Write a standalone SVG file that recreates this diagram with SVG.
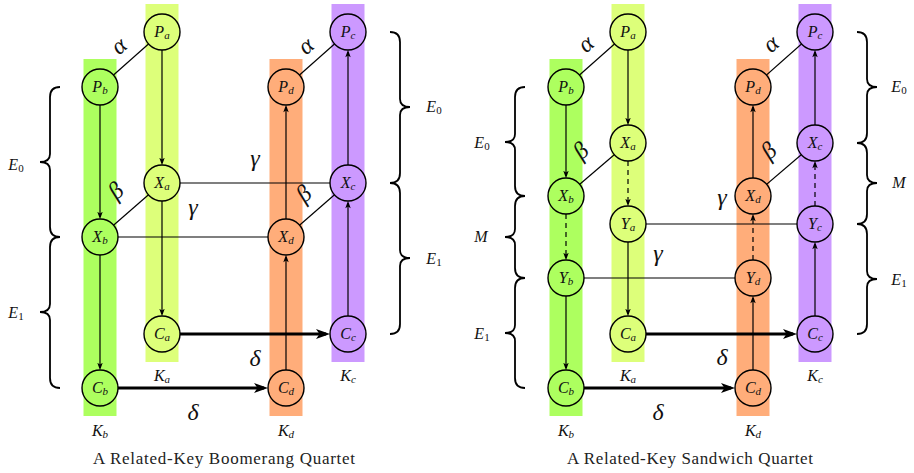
<svg xmlns="http://www.w3.org/2000/svg" width="914" height="473" viewBox="0 0 914 473" font-family="'Liberation Serif', 'Times New Roman', Tinos, 'DejaVu Serif', 'Noto Serif', serif">
<style>
.kb{fill:#adff5f}.ka{fill:#ddff7a}.kd{fill:#ffad7a}.kc{fill:#cc99ff}
.nd circle{stroke:#000;stroke-width:1.4}
text{font-family:'Liberation Serif','Times New Roman',Tinos,'DejaVu Serif','Noto Serif',serif}
.lbl{font-style:italic;font-size:16px;fill:#111;text-anchor:middle}
.sub{font-size:11px}
.up{font-style:normal}
.gr{font-style:italic;font-size:24px;fill:#111;text-anchor:middle}
.ln{stroke:#000;stroke-width:1.2;fill:none}
.ar{stroke:#000;stroke-width:1.2;fill:none;marker-end:url(#ah)}
.da{stroke:#000;stroke-width:1.2;fill:none;stroke-dasharray:5,4;marker-end:url(#ah)}
.th{stroke:#000;stroke-width:3;fill:none;marker-end:url(#tah)}
.br{stroke:#000;stroke-width:1.8;fill:none}
.cap{font-size:17px;fill:#222;text-anchor:middle}
</style>
<defs>
<marker id="ah" markerUnits="userSpaceOnUse" viewBox="0 0 8 6" markerWidth="8" markerHeight="6" refX="5.5" refY="3" orient="auto">
<path d="M0.3,0.3 L7.7,3 L0.3,5.7 L2,3 z" fill="#000"/>
</marker>
<marker id="tah" markerUnits="userSpaceOnUse" viewBox="0 0 14 10" markerWidth="14" markerHeight="10" refX="10" refY="5" orient="auto">
<path d="M0,0 L14,5 L0,10 L3.5,5 z" fill="#000"/>
</marker>
</defs>

<!-- key columns -->
<g id="bars">
<rect class="kb" x="83.5" y="59" width="33" height="357"/>
<rect class="ka" x="145.5" y="4" width="33" height="358"/>
<rect class="kd" x="269.5" y="59" width="33" height="357"/>
<rect class="kc" x="331.5" y="4" width="33" height="358"/>
<rect class="kb" x="549.5" y="59" width="33" height="357"/>
<rect class="ka" x="611.5" y="4" width="33" height="358"/>
<rect class="kd" x="736.5" y="59" width="33" height="357"/>
<rect class="kc" x="798.5" y="4" width="33" height="358"/>
</g>

<!-- connectors -->
<g id="connectors">
<!-- left: boomerang -->
<line class="ln" x1="100" y1="87" x2="162" y2="32"/>
<line class="ln" x1="286" y1="87" x2="348" y2="32"/>
<line class="ln" x1="100" y1="237" x2="162" y2="183"/>
<line class="ln" x1="286" y1="237" x2="348" y2="183"/>
<line class="ln" x1="162" y1="183" x2="348" y2="183"/>
<line class="ln" x1="100" y1="237" x2="286" y2="237"/>
<line class="ar" x1="162" y1="50" x2="162" y2="163"/>
<line class="ar" x1="100" y1="105" x2="100" y2="217"/>
<line class="ar" x1="162" y1="201" x2="162" y2="314"/>
<line class="ar" x1="100" y1="255" x2="100" y2="368"/>
<line class="ar" x1="286" y1="370" x2="286" y2="257"/>
<line class="ar" x1="286" y1="219" x2="286" y2="107"/>
<line class="ar" x1="348" y1="316" x2="348" y2="203"/>
<line class="ar" x1="348" y1="165" x2="348" y2="52"/>
<line class="th" x1="180" y1="334" x2="326" y2="334"/>
<line class="th" x1="118" y1="388" x2="264" y2="388"/>
<!-- right: sandwich -->
<line class="ln" x1="566" y1="87" x2="628" y2="32"/>
<line class="ln" x1="753" y1="87" x2="815" y2="32"/>
<line class="ln" x1="566" y1="196" x2="628" y2="143"/>
<line class="ln" x1="753" y1="196" x2="815" y2="143"/>
<line class="ln" x1="628" y1="224" x2="815" y2="224"/>
<line class="ln" x1="566" y1="278" x2="753" y2="278"/>
<line class="ar" x1="628" y1="50" x2="628" y2="123"/>
<line class="ar" x1="566" y1="105" x2="566" y2="176"/>
<line class="da" x1="628" y1="161" x2="628" y2="204"/>
<line class="da" x1="566" y1="214" x2="566" y2="258"/>
<line class="ar" x1="628" y1="242" x2="628" y2="314"/>
<line class="ar" x1="566" y1="296" x2="566" y2="368"/>
<line class="ar" x1="753" y1="370" x2="753" y2="298"/>
<line class="da" x1="753" y1="260" x2="753" y2="216"/>
<line class="ar" x1="753" y1="178" x2="753" y2="107"/>
<line class="ar" x1="815" y1="316" x2="815" y2="244"/>
<line class="da" x1="815" y1="206" x2="815" y2="163"/>
<line class="ar" x1="815" y1="125" x2="815" y2="52"/>
<line class="th" x1="646" y1="334" x2="793" y2="334"/>
<line class="th" x1="584" y1="388" x2="731" y2="388"/>
</g>

<!-- nodes left -->
<g id="L-Pa" class="nd"><circle cx="162" cy="32" r="18" class="ka"/><text class="lbl" x="162" y="37">P<tspan class="sub" dy="2">a</tspan></text></g>
<g id="L-Pb" class="nd"><circle cx="100" cy="87" r="18" class="kb"/><text class="lbl" x="100" y="92">P<tspan class="sub" dy="2">b</tspan></text></g>
<g id="L-Pc" class="nd"><circle cx="348" cy="32" r="18" class="kc"/><text class="lbl" x="348" y="37">P<tspan class="sub" dy="2">c</tspan></text></g>
<g id="L-Pd" class="nd"><circle cx="286" cy="87" r="18" class="kd"/><text class="lbl" x="286" y="92">P<tspan class="sub" dy="2">d</tspan></text></g>
<g id="L-Xa" class="nd"><circle cx="162" cy="183" r="18" class="ka"/><text class="lbl" x="162" y="188">X<tspan class="sub" dy="2">a</tspan></text></g>
<g id="L-Xb" class="nd"><circle cx="100" cy="237" r="18" class="kb"/><text class="lbl" x="100" y="242">X<tspan class="sub" dy="2">b</tspan></text></g>
<g id="L-Xc" class="nd"><circle cx="348" cy="183" r="18" class="kc"/><text class="lbl" x="348" y="188">X<tspan class="sub" dy="2">c</tspan></text></g>
<g id="L-Xd" class="nd"><circle cx="286" cy="237" r="18" class="kd"/><text class="lbl" x="286" y="242">X<tspan class="sub" dy="2">d</tspan></text></g>
<g id="L-Ca" class="nd"><circle cx="162" cy="334" r="18" class="ka"/><text class="lbl" x="162" y="339">C<tspan class="sub" dy="2">a</tspan></text></g>
<g id="L-Cb" class="nd"><circle cx="100" cy="388" r="18" class="kb"/><text class="lbl" x="100" y="393">C<tspan class="sub" dy="2">b</tspan></text></g>
<g id="L-Cc" class="nd"><circle cx="348" cy="334" r="18" class="kc"/><text class="lbl" x="348" y="339">C<tspan class="sub" dy="2">c</tspan></text></g>
<g id="L-Cd" class="nd"><circle cx="286" cy="388" r="18" class="kd"/><text class="lbl" x="286" y="393">C<tspan class="sub" dy="2">d</tspan></text></g>

<!-- nodes right -->
<g id="R-Pa" class="nd"><circle cx="628" cy="32" r="18" class="ka"/><text class="lbl" x="628" y="37">P<tspan class="sub" dy="2">a</tspan></text></g>
<g id="R-Pb" class="nd"><circle cx="566" cy="87" r="18" class="kb"/><text class="lbl" x="566" y="92">P<tspan class="sub" dy="2">b</tspan></text></g>
<g id="R-Pc" class="nd"><circle cx="815" cy="32" r="18" class="kc"/><text class="lbl" x="815" y="37">P<tspan class="sub" dy="2">c</tspan></text></g>
<g id="R-Pd" class="nd"><circle cx="753" cy="87" r="18" class="kd"/><text class="lbl" x="753" y="92">P<tspan class="sub" dy="2">d</tspan></text></g>
<g id="R-Xa" class="nd"><circle cx="628" cy="143" r="18" class="ka"/><text class="lbl" x="628" y="148">X<tspan class="sub" dy="2">a</tspan></text></g>
<g id="R-Xb" class="nd"><circle cx="566" cy="196" r="18" class="kb"/><text class="lbl" x="566" y="201">X<tspan class="sub" dy="2">b</tspan></text></g>
<g id="R-Xc" class="nd"><circle cx="815" cy="143" r="18" class="kc"/><text class="lbl" x="815" y="148">X<tspan class="sub" dy="2">c</tspan></text></g>
<g id="R-Xd" class="nd"><circle cx="753" cy="196" r="18" class="kd"/><text class="lbl" x="753" y="201">X<tspan class="sub" dy="2">d</tspan></text></g>
<g id="R-Ya" class="nd"><circle cx="628" cy="224" r="18" class="ka"/><text class="lbl" x="628" y="229">Y<tspan class="sub" dy="2">a</tspan></text></g>
<g id="R-Yb" class="nd"><circle cx="566" cy="278" r="18" class="kb"/><text class="lbl" x="566" y="283">Y<tspan class="sub" dy="2">b</tspan></text></g>
<g id="R-Yc" class="nd"><circle cx="815" cy="224" r="18" class="kc"/><text class="lbl" x="815" y="229">Y<tspan class="sub" dy="2">c</tspan></text></g>
<g id="R-Yd" class="nd"><circle cx="753" cy="278" r="18" class="kd"/><text class="lbl" x="753" y="283">Y<tspan class="sub" dy="2">d</tspan></text></g>
<g id="R-Ca" class="nd"><circle cx="628" cy="334" r="18" class="ka"/><text class="lbl" x="628" y="339">C<tspan class="sub" dy="2">a</tspan></text></g>
<g id="R-Cb" class="nd"><circle cx="566" cy="388" r="18" class="kb"/><text class="lbl" x="566" y="393">C<tspan class="sub" dy="2">b</tspan></text></g>
<g id="R-Cc" class="nd"><circle cx="815" cy="334" r="18" class="kc"/><text class="lbl" x="815" y="339">C<tspan class="sub" dy="2">c</tspan></text></g>
<g id="R-Cd" class="nd"><circle cx="753" cy="388" r="18" class="kd"/><text class="lbl" x="753" y="393">C<tspan class="sub" dy="2">d</tspan></text></g>

<!-- key labels -->
<g id="keys">
<text class="lbl" x="162" y="381">K<tspan class="sub" dy="2">a</tspan></text>
<text class="lbl" x="100" y="436">K<tspan class="sub" dy="2">b</tspan></text>
<text class="lbl" x="348" y="381">K<tspan class="sub" dy="2">c</tspan></text>
<text class="lbl" x="286" y="436">K<tspan class="sub" dy="2">d</tspan></text>
<text class="lbl" x="628" y="381">K<tspan class="sub" dy="2">a</tspan></text>
<text class="lbl" x="566" y="436">K<tspan class="sub" dy="2">b</tspan></text>
<text class="lbl" x="815" y="381">K<tspan class="sub" dy="2">c</tspan></text>
<text class="lbl" x="753" y="436">K<tspan class="sub" dy="2">d</tspan></text>
</g>

<!-- difference labels -->
<g id="greek">
<text class="gr" transform="translate(120,47) rotate(-42)" y="6">α</text>
<text class="gr" transform="translate(307,47) rotate(-42)" y="6">α</text>
<text class="gr" transform="translate(117,192) rotate(-42)" y="6">β</text>
<text class="gr" transform="translate(305,195) rotate(-42)" y="6">β</text>
<text class="gr" x="255" y="166">γ</text>
<text class="gr" x="193" y="215">γ</text>
<text class="gr" x="255" y="366">δ</text>
<text class="gr" x="193" y="420">δ</text>
<text class="gr" transform="translate(587,45) rotate(-42)" y="6">α</text>
<text class="gr" transform="translate(772,45) rotate(-42)" y="6">α</text>
<text class="gr" transform="translate(582,152) rotate(-42)" y="6">β</text>
<text class="gr" transform="translate(770,152) rotate(-42)" y="6">β</text>
<text class="gr" x="658" y="261">γ</text>
<text class="gr" x="722" y="205">γ</text>
<text class="gr" x="722" y="365">δ</text>
<text class="gr" x="658" y="420">δ</text>
</g>

<!-- braces -->
<g id="braces">
<path class="br" d="M60,87 Q50,87 50,97 L50,154 Q50,162 40,162 Q50,162 50,170 L50,227 Q50,237 60,237"/>
<path class="br" d="M60,237 Q50,237 50,247 L50,304 Q50,312 40,312 Q50,312 50,320 L50,378 Q50,388 60,388"/>
<path class="br" d="M390,32 Q400,32 400,42 L400,99 Q400,107 410,107 Q400,107 400,115 L400,173 Q400,183 390,183"/>
<path class="br" d="M390,183 Q400,183 400,193 L400,250 Q400,258 410,258 Q400,258 400,266 L400,324 Q400,334 390,334"/>
<path class="br" d="M525,87 Q515,87 515,97 L515,134 Q515,142 505,142 Q515,142 515,150 L515,186 Q515,196 525,196"/>
<path class="br" d="M525,196 Q515,196 515,206 L515,229 Q515,237 505,237 Q515,237 515,245 L515,268 Q515,278 525,278"/>
<path class="br" d="M525,278 Q515,278 515,288 L515,325 Q515,333 505,333 Q515,333 515,341 L515,378 Q515,388 525,388"/>
<path class="br" d="M857,32 Q867,32 867,42 L867,79 Q867,87 877,87 Q867,87 867,95 L867,133 Q867,143 857,143"/>
<path class="br" d="M857,143 Q867,143 867,153 L867,175 Q867,183 877,183 Q867,183 867,191 L867,214 Q867,224 857,224"/>
<path class="br" d="M857,224 Q867,224 867,234 L867,271 Q867,279 877,279 Q867,279 867,287 L867,324 Q867,334 857,334"/>
<text class="lbl" x="16" y="170">E<tspan class="sub up" dy="2">0</tspan></text>
<text class="lbl" x="16" y="318">E<tspan class="sub up" dy="2">1</tspan></text>
<text class="lbl" x="434" y="112">E<tspan class="sub up" dy="2">0</tspan></text>
<text class="lbl" x="434" y="264">E<tspan class="sub up" dy="2">1</tspan></text>
<text class="lbl" x="482" y="148">E<tspan class="sub up" dy="2">0</tspan></text>
<text class="lbl" x="481" y="242">M</text>
<text class="lbl" x="482" y="339">E<tspan class="sub up" dy="2">1</tspan></text>
<text class="lbl" x="899" y="92">E<tspan class="sub up" dy="2">0</tspan></text>
<text class="lbl" x="899" y="188">M</text>
<text class="lbl" x="899" y="285">E<tspan class="sub up" dy="2">1</tspan></text>
</g>

<!-- captions -->
<text class="cap" x="224" y="464" textLength="262" lengthAdjust="spacing">A Related-Key Boomerang Quartet</text>
<text class="cap" x="690" y="464" textLength="246" lengthAdjust="spacing">A Related-Key Sandwich Quartet</text>
</svg>
